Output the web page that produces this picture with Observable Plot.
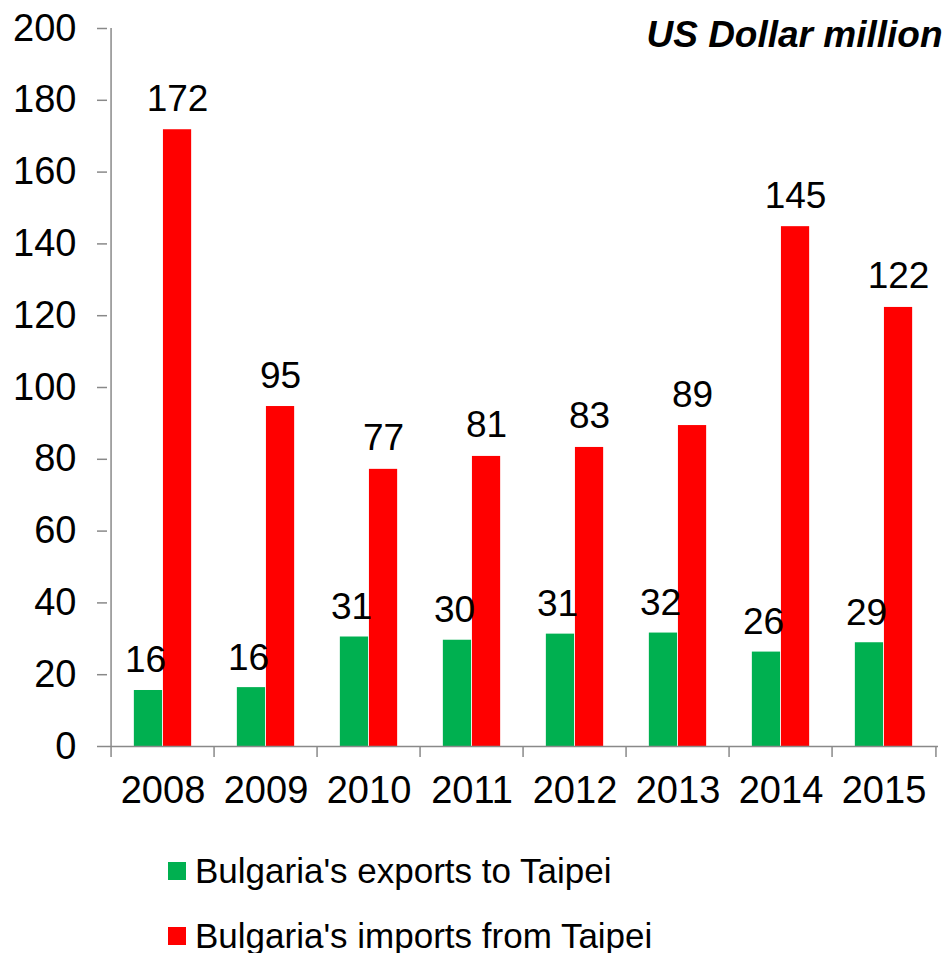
<!DOCTYPE html>
<html>
<head>
<meta charset="utf-8">
<script src="https://cdn.jsdelivr.net/npm/d3@7"></script>
<script src="https://cdn.jsdelivr.net/npm/@observablehq/plot@0.6"></script>
<style>
  html, body { margin: 0; padding: 0; background: #fff; }
  #wrap { position: relative; width: 946px; height: 953px; font-family: "Liberation Sans", Arial, sans-serif; }
  #legend { position: absolute; left: 168px; top: 838px; }
  .row { display: flex; align-items: center; height: 65px; font-size: 35px; color: #000; }
  .sw { width: 18px; height: 18px; margin-right: 9px; }
</style>
</head>
<body>
<div id="wrap"><div id="chart"></div><div id="legend"></div></div>
<script>
const years = ["2008", "2009", "2010", "2011", "2012", "2013", "2014", "2015"];
const exportsToTaipei = [15.6, 16.4, 30.5, 29.6, 31.3, 31.6, 26.3, 28.9];
const importsFromTaipei = [171.8, 94.7, 77.2, 80.8, 83.3, 89.4, 144.8, 122.3];
const yTicks = [0, 20, 40, 60, 80, 100, 120, 140, 160, 180, 200];
const seriesNames = ["Bulgaria's exports to Taipei", "Bulgaria's imports from Taipei"];
const seriesColors = ["#00B050", "#FF0000"];
const unitLabel = "US Dollar million";

const W = 946, H = 830, mL = 107, mR = 8, mT = 28, mB = 84;
const bw = (W - mL - mR) / years.length;
const pad = 0.22 * bw;
const half = bw / 2;
const labelShift = (half - pad) / 2;
const axisGray = "#898989";

const rowsE = years.map((y, i) => ({year: y, value: exportsToTaipei[i]}));
const rowsI = years.map((y, i) => ({year: y, value: importsFromTaipei[i]}));

const chart = Plot.plot({
  width: W, height: H,
  marginLeft: mL, marginRight: mR, marginTop: mT, marginBottom: mB,
  style: {fontFamily: "'Liberation Sans', Arial, sans-serif", fontSize: "38px", color: "#000", background: "#fff"},
  x: {type: "band", domain: years, padding: 0, axis: null},
  y: {domain: [0, 200], axis: null},
  marks: [
    Plot.barY(rowsE, {x: "year", y: "value", fill: seriesColors[0], insetLeft: pad, insetRight: half}),
    Plot.barY(rowsI, {x: "year", y: "value", fill: seriesColors[1], insetLeft: half, insetRight: pad}),
    Plot.ruleY([0], {stroke: axisGray, strokeWidth: 1.5}),
    Plot.ruleX([years[0]], {x: d => d, dx: -half, y1: 0, y2: 200, stroke: axisGray, strokeWidth: 1.5}),
    Plot.ruleX(years, {x: d => d, dx: -half, y1: 0, insetBottom: -11, stroke: axisGray, strokeWidth: 1.5}),
    Plot.ruleX([years[years.length - 1]], {x: d => d, dx: half, y1: 0, insetBottom: -11, stroke: axisGray, strokeWidth: 1.5}),
    Plot.axisY({ticks: yTicks, tickSize: 10, tickPadding: 21, stroke: axisGray, strokeWidth: 1.5, fill: "#000", fontSize: 38, label: null, tickFormat: d => String(d)}),
    Plot.axisX({tickSize: 0, tickPadding: 30, fill: "#000", fontSize: 38, label: null}),
    Plot.text(rowsE, {x: "year", y: "value", text: d => String(Math.round(d.value)), dx: -labelShift - 3, dy: -18, lineAnchor: "bottom", fontSize: 37, fill: "#000"}),
    Plot.text(rowsI, {x: "year", y: "value", text: d => String(Math.round(d.value)), dx: labelShift, dy: -19, lineAnchor: "bottom", fontSize: 37, fill: "#000"}),
    Plot.text([unitLabel], {text: d => d, frameAnchor: "top-right", dx: 4, dy: -8, lineAnchor: "top", fontSize: 37, fontWeight: "bold", fontStyle: "italic", fill: "#000"})
  ]
});
document.getElementById("chart").appendChild(chart);

const legend = document.getElementById("legend");
seriesNames.forEach((name, i) => {
  const row = document.createElement("div");
  row.className = "row";
  const sw = document.createElement("span");
  sw.className = "sw";
  sw.style.background = seriesColors[i];
  const t = document.createElement("span");
  t.textContent = name;
  row.appendChild(sw);
  row.appendChild(t);
  legend.appendChild(row);
});
</script>
</body>
</html>
